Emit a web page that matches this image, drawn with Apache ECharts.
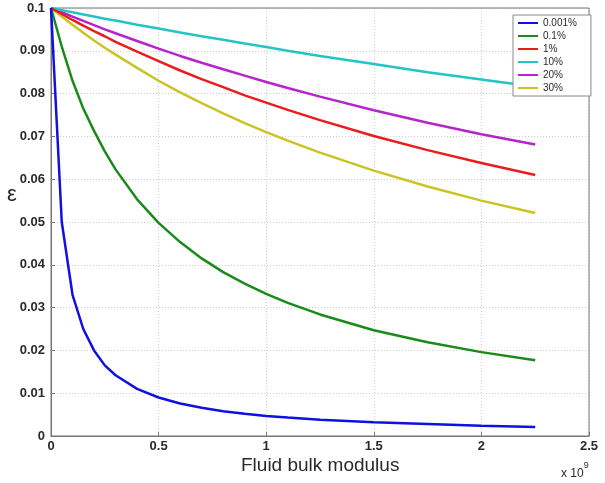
<!DOCTYPE html>
<html>
<head>
<meta charset="utf-8">
<script src="https://cdn.jsdelivr.net/npm/echarts@6/dist/echarts.min.js"></script>
<style>
  html, body { margin: 0; padding: 0; background: #fff; }
  #chart { width: 605px; height: 483px; }
</style>
</head>
<body>
<div id="chart"></div>
<script>
// Fluid bulk modulus (x 10^9) sample points
var modulus = [0, 0.05, 0.1, 0.15, 0.2, 0.25, 0.3, 0.4, 0.5, 0.6, 0.7, 0.8, 0.9, 1.0, 1.1, 1.25, 1.5, 1.75, 2.0, 2.25];

// Strain epsilon for each case
var eps0001 = [0.1, 0.050, 0.033, 0.025, 0.020, 0.0165, 0.0142, 0.0110, 0.0090, 0.0076, 0.0066, 0.0058, 0.0052, 0.0047, 0.0043, 0.0038, 0.0032, 0.0028, 0.0024, 0.0021];
var eps01   = [0.1, 0.091, 0.083, 0.0765, 0.0713, 0.0665, 0.0623, 0.0553, 0.0498, 0.0453, 0.0415, 0.0383, 0.0356, 0.0332, 0.0311, 0.0284, 0.0247, 0.0219, 0.0196, 0.0177];
var eps1    = [0.1, 0.0986, 0.0972, 0.0959, 0.0946, 0.0934, 0.0921, 0.0898, 0.0876, 0.0854, 0.0834, 0.0815, 0.0796, 0.0779, 0.0762, 0.0738, 0.0701, 0.0668, 0.0638, 0.0610];
var eps10   = [0.1, 0.0995, 0.0990, 0.0985, 0.0980, 0.0975, 0.0971, 0.0961, 0.0952, 0.0943, 0.0934, 0.0926, 0.0917, 0.0909, 0.0900, 0.0888, 0.0869, 0.0850, 0.0833, 0.0816];
var eps20   = [0.1, 0.0990, 0.0980, 0.0970, 0.0960, 0.0950, 0.0941, 0.0923, 0.0905, 0.0888, 0.0872, 0.0857, 0.0842, 0.0827, 0.0813, 0.0793, 0.0761, 0.0732, 0.0705, 0.0681];
var eps30   = [0.1, 0.0980, 0.0961, 0.0942, 0.0924, 0.0907, 0.0891, 0.0860, 0.0830, 0.0803, 0.0778, 0.0754, 0.0731, 0.0710, 0.0690, 0.0662, 0.0620, 0.0583, 0.0550, 0.0521];

var seriesNames  = ['0.001%', '0.1%', '1%', '10%', '20%', '30%'];
var seriesValues = [eps0001, eps01, eps1, eps10, eps20, eps30];
var seriesColors = ['#1010e0', '#1a8a1a', '#ec1c1c', '#22c4c4', '#b624cc', '#c9c424'];

function pairs(vals) {
  return modulus.map(function (x, i) { return [x, vals[i]]; });
}

var textColor = '#2a2a2a';
var font = 'Liberation Sans, Arial, Helvetica, sans-serif';

var series = seriesNames.map(function (name, i) {
  return {
    name: name,
    type: 'line',
    data: pairs(seriesValues[i]),
    showSymbol: false,
    smooth: false,
    lineStyle: { width: 2.5, color: seriesColors[i] },
    itemStyle: { color: seriesColors[i] },
    z: 10 - i
  };
});

var chart = echarts.init(document.getElementById('chart'), null, { renderer: 'canvas' });
chart.setOption({
  animation: false,
  backgroundColor: '#fff',
  grid: { left: 51, right: 16, top: 8, bottom: 47, containLabel: false, show: false },
  xAxis: {
    type: 'value', min: 0, max: 2.5, interval: 0.5,
    axisLine: { show: true, onZero: false, lineStyle: { color: '#777', width: 1 } },
    axisTick: { show: true, inside: true, length: 4, lineStyle: { color: '#777' } },
    axisLabel: { color: textColor, fontSize: 13, fontWeight: 'bold', fontFamily: font, margin: 4 },
    splitLine: { show: true, lineStyle: { color: '#cfcfcf', type: [1, 2], width: 1 } }
  },
  yAxis: {
    type: 'value', min: 0, max: 0.1, interval: 0.01,
    axisLine: { show: true, onZero: false, lineStyle: { color: '#777', width: 1 } },
    axisTick: { show: true, inside: true, length: 4, lineStyle: { color: '#777' } },
    axisLabel: { color: textColor, fontSize: 13, fontWeight: 'bold', fontFamily: font, margin: 6 },
    splitLine: { show: true, lineStyle: { color: '#cfcfcf', type: [1, 2], width: 1 } }
  },
  legend: {
    data: seriesNames,
    orient: 'vertical',
    left: 513, top: 15,
    z: 30,
    icon: 'rect',
    itemWidth: 20, itemHeight: 2,
    itemGap: 3,
    padding: [3, 14, 3, 5],
    borderColor: '#888', borderWidth: 1,
    backgroundColor: '#fff',
    textStyle: { color: textColor, fontSize: 10, fontFamily: font, padding: [0, 0, 0, 0] }
  },
  graphic: [
    {
      type: 'rect', silent: true, z: 5,
      shape: { x: 51, y: 8, width: 538, height: 428 },
      style: { fill: 'none', stroke: '#777', lineWidth: 1 }
    },
    {
      type: 'text', left: 241, top: 456,
      style: { text: 'Fluid bulk modulus', fill: textColor, fontSize: 19, fontFamily: font }
    },
    {
      type: 'text', left: 7, top: 184,
      style: { text: 'ε', fill: textColor, fontSize: 22, fontFamily: font }
    },
    {
      type: 'text', left: 561, top: 461,
      style: {
        text: '{b|x 10}{s|9}',
        rich: {
          b: { fill: textColor, fontSize: 12, fontFamily: font, verticalAlign: 'bottom', padding: [7, 0, 0, 0] },
          s: { fill: textColor, fontSize: 9, fontFamily: font, verticalAlign: 'top' }
        }
      }
    }
  ],
  series: series
});
</script>
</body>
</html>
